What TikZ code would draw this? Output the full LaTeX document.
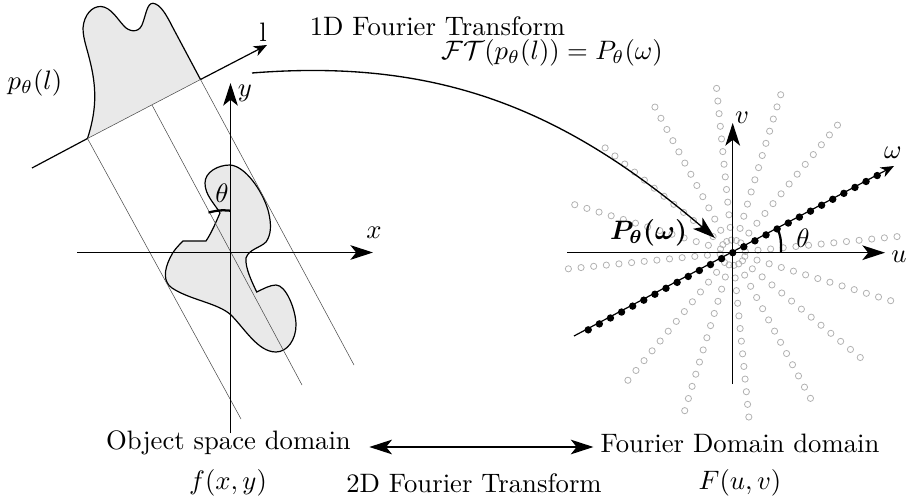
\documentclass[tikz,border=0pt]{standalone}
\usepackage{amsmath}
\usetikzlibrary{arrows.meta}

\tikzset{
  bigtip/.tip={Stealth[length=8.5pt,width=5.5pt,inset=2.2pt]},
  axisline/.style={line width=0.5pt, -bigtip},
  blobshape/.style={draw, line width=0.45pt, fill=gray!17},
  rayline/.style={line width=0.2pt, black!70},
  anglemark/.style={line width=0.85pt},
  greydot/.style={draw=gray!60, line width=0.3pt},
  blackdot/.style={fill=black},
}

\begin{document}
\begin{tikzpicture}[x=0.375pt, y=-0.375pt]
    \useasboundingbox (0,0) rectangle (906,498);

    \coordinate (lstart) at (32,168);
    \coordinate (lend) at (267,45);
    \coordinate (lowa) at (87.5,138.5);
    \coordinate (lowb) at (152,105);
    \coordinate (lowc) at (200.5,79.5);
    \coordinate (raya) at (241,419);
    \coordinate (rayb) at (302,385);
    \coordinate (rayc) at (354,365);

    \draw[blobshape] (lowa) .. controls (95,115) and (97,95) .. (92,70) .. controls (88,50) and (83,40) .. (83,28)
        .. controls (84,15) and (92,6) .. (101,6.5) .. controls (111,7) and (118,20) .. (124,26)
        .. controls (128,31) and (138,34) .. (142,25) .. controls (146,15) and (147,3) .. (153,3.3)
        .. controls (160,4) and (166,14) .. (172,26) -- (lowc);
    \draw[blobshape] (206,241) .. controls (212,232) and (216,222) .. (220,213) .. controls (214,203) and (205,195) .. (205,183)
        .. controls (205,172) and (218,165) .. (230,165) .. controls (245,166) and (262,190) .. (268,210)
        .. controls (272,225) and (271,235) .. (266,242) .. controls (260,248) and (249,249) .. (246,258)
        .. controls (245,268) and (252,282) .. (256.7,292) .. controls (263,289) and (270,285) .. (276,285)
        .. controls (286,285) and (296,310) .. (296,325) .. controls (296,340) and (287,352) .. (276,352)
        .. controls (258,352) and (245,329) .. (231,315) .. controls (218,303) and (190,300) .. (172,288)
        .. controls (163,282) and (164,270) .. (170,258) .. controls (173,251) and (178,246) .. (183,241) -- cycle;

    \draw[rayline] (lowa) -- (raya);
    \draw[rayline] (lowb) -- (rayb);
    \draw[rayline] (lowc) -- (rayc);
    \draw[rayline] (lowa) -- (lowc);
    \draw[line width=0.45pt] (lstart) -- (lowa);
    \draw[line width=0.45pt, -{Stealth[length=5pt,width=4pt,inset=1.5pt]}] (lowc) -- (lend);

    \coordinate (ybot) at (230.5,433);
    \coordinate (ytop) at (230.5,83);
    \coordinate (xbot) at (77,252.5);
    \coordinate (xtop) at (373,252.5);
    \draw[axisline] (ybot) -- (ytop);
    \draw[axisline] (xbot) -- (xtop);
    \draw[anglemark] (230.5,210.7) .. controls (220,210) .. (208.5,212.5);

    \begin{scope}[shift={(732.7,252.7)}]
      \foreach \ang in {5.6,50.6,73.1,95.6,118.1,140.6,163.1}{
        \foreach \k in {-13,...,-1,1,2,...,13}{
          \draw[greydot] (-\ang:{\k*12.7}) circle[radius=3.1];
        }
      }
      \foreach \k in {-13,...,13}{
        \fill[blackdot] (-28.1:{\k*12.6}) circle[radius=3.7];
      }
    \end{scope}

    \coordinate (wstart) at (574,336);
    \coordinate (wend) at (894,166);
    \coordinate (vbot) at (732.7,384);
    \coordinate (vtop) at (732.7,123);
    \coordinate (ubot) at (567,252.7);
    \coordinate (utop) at (885,252.7);
    \draw[line width=0.45pt, -{Stealth[length=5pt,width=4pt,inset=1.5pt]}] (wstart) -- (wend);
    \draw[axisline] (vbot) -- (vtop);
    \draw[axisline] (ubot) -- (utop);
    \draw[anglemark] (777,226.7) .. controls (781,238) .. (781,252.7);

    \coordinate (curvestart) at (252,73);
    \coordinate (curveend) at (715,238);
    \draw[axisline] (curvestart) .. controls (440,58) and (565,110) .. (curveend);

    \node (lname) at (263,32) {l};
    \node (plabel) at (35,83) {$p_\theta(l)$};
    \node (xname) at (374,233) {$x$};
    \node (yname) at (245,93) {$y$};
    \node (thetaleft) at (222,193) {$\theta$};
    \node (uname) at (899,257) {$u$};
    \node (vname) at (742,118) {$v$};
    \node (wname) at (893,153) {$\omega$};
    \node (thetaright) at (803,238) {$\theta$};
    \node (Pname) at (648.5,233) {$\boldsymbol{P_\theta(\omega)}$};
    \node (ftone) at (437.5,26) {1D Fourier Transform};
    \node (fteq) at (552,53) {$\mathcal{FT}(p_\theta(l))=P_\theta(\omega)$};
    \node[inner sep=0pt] (objname) at (228.5,443) {Object space domain};
    \node[inner sep=0pt] (founame) at (740,443) {Fourier Domain domain};
    \node (fxy) at (228,483) {$f(x,y)$};
    \node (ftwo) at (474,483) {2D Fourier Transform};
    \node (Fuv) at (740,483) {$F(u,v)$};
    \draw[line width=0.5pt, bigtip-bigtip, shorten >=2.5pt, shorten <=6.75pt] ([yshift=-1.5pt]objname.east) -- ([yshift=-1.5pt]founame.west);
\end{tikzpicture}
\end{document}
